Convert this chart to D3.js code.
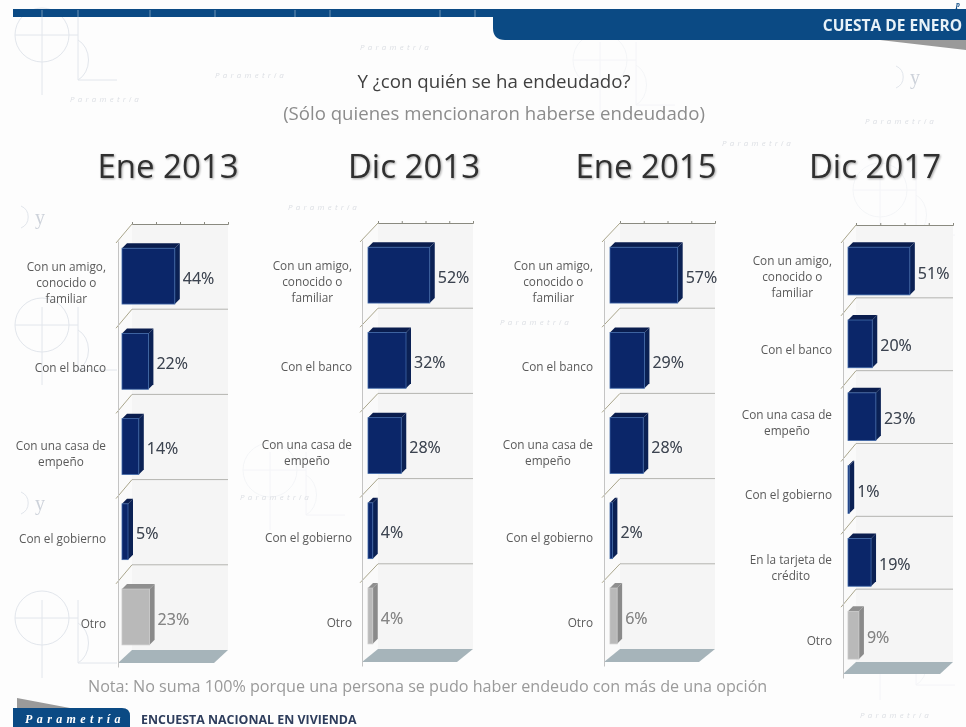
<!DOCTYPE html>
<html>
<head>
<meta charset="utf-8">
<title>Cuesta de enero</title>
<script src="https://cdnjs.cloudflare.com/ajax/libs/d3/7.8.5/d3.min.js"></script>
<style>
  html, body { margin: 0; padding: 0; background: #fff; }
  svg { display: block; filter: blur(0.6px); font-family: "Open Sans", Lato, sans-serif; }
</style>
</head>
<body>
<div id="graph"></div>
<script>
// categories ("|" marks the line breaks of the tick labels)
const amigo = "Con un amigo,|conocido o|familiar";
const banco = "Con el banco";
const casa = "Con una casa de|empeño";
const gobierno = "Con el gobierno";
const tarjeta = "En la tarjeta de|crédito";
const otro = "Otro";

const categories2013a = [amigo, banco, casa, gobierno, otro];
const categories2017 = [amigo, banco, casa, gobierno, tarjeta, otro];

const dates = ["Ene 2013", "Dic 2013", "Ene 2015", "Dic 2017"];

const valuesEne2013 = [44, 22, 14, 5, 23];
const valuesDic2013 = [52, 32, 28, 4, 4];
const valuesEne2015 = [57, 29, 28, 2, 6];
const valuesDic2017 = [51, 20, 23, 1, 19, 9];

const width = 966, height = 727;

const svg = d3.select("#graph").append("svg")
    .attr("width", width)
    .attr("height", height);

svg.append("rect").attr("width", width).attr("height", height).attr("fill", "#fdfdfd");

// faint background motif of the slide
const bg = svg.append("g").attr("class", "background");
const bgColor = "#e2e6ec";

[[42, 35], [42, 325], [42, 618], [270, 470], [600, 60], [880, 640], [880, 190]].forEach(function (c, i) {
    const g = bg.append("g").attr("transform", "translate(" + c[0] + "," + c[1] + ")")
        .attr("opacity", i < 3 ? 1 : 0.35);
    g.append("circle").attr("r", 27).attr("fill", "none").attr("stroke", bgColor);
    g.append("line").attr("x1", -27).attr("x2", 36).attr("stroke", bgColor);
    g.append("line").attr("y1", -18).attr("y2", 60).attr("stroke", bgColor);
    g.append("line").attr("x1", 36).attr("x2", 36).attr("y1", -18).attr("y2", 45).attr("stroke", bgColor);
    g.append("path").attr("d", "M36,5 A18,22 0 0 1 36,45 L75,45").attr("fill", "none").attr("stroke", bgColor);
});

[[35, 224], [35, 510], [910, 84]].forEach(function (c) {
    bg.append("text").attr("x", c[0]).attr("y", c[1]).attr("font-family", "Liberation Serif")
        .attr("font-size", 20).attr("fill", "#cdd2da").text("y");
    bg.append("path").attr("d", "M" + (c[0] - 14) + "," + (c[1] - 18) + " A12,12 0 0 1 " + (c[0] - 14) + "," + (c[1] + 4))
        .attr("fill", "none").attr("stroke", bgColor);
});

[[70, 102], [215, 78], [360, 50], [865, 124], [722, 146], [288, 210], [860, 718], [500, 325], [240, 500]].forEach(function (c) {
    bg.append("text").attr("x", c[0]).attr("y", c[1]).attr("font-size", 8).attr("letter-spacing", 3.2)
        .attr("font-style", "italic").attr("fill", "#dcdfe4").text("Parametría");
});

// header
svg.append("rect").attr("x", 13).attr("y", 9).attr("width", width - 13).attr("height", 8).attr("fill", "#0b4a84");
[42, 78, 150, 215, 295, 330, 440, 475].forEach(function (lx) {
    svg.append("line").attr("x1", lx).attr("x2", lx).attr("y1", 10).attr("y2", 17)
        .attr("stroke", "#fff").attr("stroke-opacity", 0.4);
});
svg.append("path")
    .attr("d", "M493,12 H966 V40 H505 Q493,40 493,28 Z")
    .attr("fill", "#0b4a84");
svg.append("path").attr("d", "M880,40 H966 V50 Z").attr("fill", "#9a9a9a");
svg.append("text").attr("x", 962).attr("y", 31).attr("text-anchor", "end")
    .attr("font-size", 15.5).attr("font-weight", 700).attr("fill", "#e8f2f8")
    .text("CUESTA DE ENERO");
svg.append("text").attr("x", 956).attr("y", 7)
    .attr("font-family", "Liberation Serif").attr("font-style", "italic").attr("font-weight", 700)
    .attr("font-size", 7.8).attr("fill", "#0b4a84").text("p");

// headings
svg.append("text").attr("x", 494).attr("y", 88).attr("text-anchor", "middle")
    .attr("font-size", 18.7).attr("fill", "#404040").text("Y ¿con quién se ha endeudado?");
svg.append("text").attr("x", 494).attr("y", 120).attr("text-anchor", "middle")
    .attr("font-size", 18.6).attr("fill", "#8c8c8c").text("(Sólo quienes mencionaron haberse endeudado)");

// one 3D bar panel per survey date
function drawPanel(date, categories, values, p) {
    const g = svg.append("g").attr("class", "panel");
    const dy = p.frontTop - p.top;

    g.append("text")
        .attr("x", p.titleX).attr("y", 178).attr("text-anchor", "middle")
        .attr("font-size", 33).attr("font-weight", 500).attr("fill", "#303030")
        .style("filter", "drop-shadow(1px 1px 1px rgba(0,0,0,.35))")
        .text(date);

    const x = d3.scaleLinear().domain([0, 80]).range([p.backLeft, p.right]);
    const y = d3.scaleBand().domain(categories).range([p.top, p.floor]);
    const step = y.step();

    // back wall and side wall
    g.append("rect").attr("x", p.backLeft).attr("y", p.top)
        .attr("width", p.right - p.backLeft).attr("height", p.floor - p.top).attr("fill", "#f5f5f5");
    g.append("path")
        .attr("d", `M${p.frontLeft},${p.frontTop} L${p.backLeft},${p.top} V${p.floor} L${p.frontLeft},${p.floor + dy - 4} Z`)
        .attr("fill", "#fafafa");

    // floor
    g.append("path")
        .attr("d", `M${p.frontLeft},${p.floor + dy - 4} L${p.backLeft},${p.floor} H${p.right} L${p.right - (p.backLeft - p.frontLeft)},${p.floor + dy - 4} Z`)
        .attr("fill", "#a6b4ba");

    // gridlines between the rows, with their slanted part on the side wall
    categories.slice(1).forEach(function (c) {
        g.append("line").attr("x1", p.backLeft).attr("x2", p.right)
            .attr("y1", y(c)).attr("y2", y(c)).attr("stroke", "#b4b4b0");
    });
    categories.forEach(function (c) {
        g.append("line").attr("x1", p.frontLeft - 2).attr("x2", p.backLeft)
            .attr("y1", y(c) + dy + 2).attr("y2", y(c)).attr("stroke", "#aaa68c");
    });

    // top axis of the back wall: ticks only
    g.append("g")
        .attr("transform", "translate(0," + p.top + ")")
        .call(d3.axisTop(x).tickValues([0, 20, 40, 60, 80]).tickSize(2).tickFormat(""))
        .call(function (a) {
            a.selectAll("path").attr("stroke", "#8a8a80");
            a.selectAll("line").attr("stroke", "#8a8a80");
        });

    // category axis along the front edge
    const axis = g.append("g")
        .attr("transform", "translate(" + p.frontLeft + "," + dy + ")")
        .call(d3.axisLeft(y).tickSize(0).tickPadding(p.labelPad));
    axis.select(".domain").attr("stroke", "#c4c4c4");
    axis.selectAll("text").each(function (d) {
        const t = d3.select(this);
        const lines = d.split("|");
        t.text(null).attr("font-size", 11.8).attr("font-family", "'Open Sans', sans-serif").attr("fill", "#5a5a5a");
        const right = -p.labelPad;
        const spans = lines.map(function (l) { return t.append("tspan").text(l); });
        const w = d3.max(spans, function (s) { return s.node().getComputedTextLength(); });
        t.attr("text-anchor", "middle").attr("dy", null);
        spans.forEach(function (s, i) {
            s.attr("x", right - w / 2)
                .attr("y", (i - (lines.length - 1) / 2) * 16 + 3.5);
        });
    });

    // bars: front face, top and side
    const depth = 5;
    const rows = categories.map(function (c, i) {
        return {
            value: values[i],
            gray: c === otro,
            x0: x(0) - p.barInset,
            x1: x(values[i]) - p.barInset,
            y0: y(c) + dy + 0.085 * step,
            y1: y(c) + dy + 0.74 * step
        };
    });

    const bars = g.selectAll("g.bar").data(rows).join("g").attr("class", "bar");

    bars.append("path")
        .attr("d", d => `M${d.x0},${d.y0} L${d.x0 + depth},${d.y0 - depth} H${d.x1 + depth} L${d.x1},${d.y0} Z`)
        .attr("fill", d => d.gray ? "#8f8f8f" : "#0a1d4e");
    bars.append("path")
        .attr("d", d => `M${d.x1},${d.y0} L${d.x1 + depth},${d.y0 - depth} V${d.y1 - depth} L${d.x1},${d.y1} Z`)
        .attr("fill", d => d.gray ? "#8a8a8a" : "#0b2154");
    bars.append("rect")
        .attr("x", d => d.x0).attr("y", d => d.y0)
        .attr("width", d => d.x1 - d.x0).attr("height", d => d.y1 - d.y0)
        .attr("fill", d => d.gray ? "#b9b9b9" : "#0b2669")
        .attr("stroke", d => d.gray ? "#c8c8c8" : "#3f68a8").attr("stroke-width", 0.8);

    bars.append("text")
        .attr("x", d => d.x1 + depth + 3)
        .attr("y", d => (d.y0 + d.y1) / 2 + 2)
        .attr("dy", "0.35em")
        .attr("font-size", 16).attr("font-weight", 500)
        .attr("fill", d => d.gray ? "#858585" : "#3b4350")
        .style("filter", "drop-shadow(0.5px 0.5px 0.5px rgba(0,0,0,.3))")
        .text(d => d.value + "%");
}

drawPanel(dates[0], categories2013a, valuesEne2013,
    { titleX: 168, frontLeft: 118, backLeft: 132, right: 228, top: 224, frontTop: 241, floor: 650, barInset: 10, labelPad: 12 });
drawPanel(dates[1], categories2013a, valuesDic2013,
    { titleX: 414, frontLeft: 362, backLeft: 378, right: 473, top: 223, frontTop: 240, floor: 649, barInset: 10, labelPad: 10 });
drawPanel(dates[2], categories2013a, valuesEne2015,
    { titleX: 646, frontLeft: 604, backLeft: 620, right: 715, top: 223, frontTop: 240, floor: 649, barInset: 10, labelPad: 11 });
drawPanel(dates[3], categories2017, valuesDic2017,
    { titleX: 875, frontLeft: 843, backLeft: 856, right: 953, top: 225, frontTop: 241, floor: 662, barInset: 8, labelPad: 11 });

// note and footer
svg.append("text").attr("x", 88).attr("y", 692)
    .attr("font-size", 16.15).attr("fill", "#9a9a9a")
    .text("Nota: No suma 100% porque una persona se pudo haber endeudo con más de una opción");

svg.append("path").attr("d", "M17,698 L70,708 H17 Z").attr("fill", "#9a9a9a");
svg.append("path").attr("d", "M13,727 V708 H122 Q130,708 130,716 V727 Z").attr("fill", "#0b4a84");
svg.append("text").attr("x", 25).attr("y", 723)
    .attr("font-family", "Liberation Serif").attr("font-style", "italic").attr("font-weight", 700)
    .attr("font-size", 12).attr("letter-spacing", 4.4).attr("fill", "#fff")
    .text("Parametría");
svg.append("text").attr("x", 141).attr("y", 724)
    .attr("font-size", 12.4).attr("font-weight", 700).attr("fill", "#2e3d5c")
    .text("ENCUESTA NACIONAL EN VIVIENDA");
</script>
</body>
</html>
